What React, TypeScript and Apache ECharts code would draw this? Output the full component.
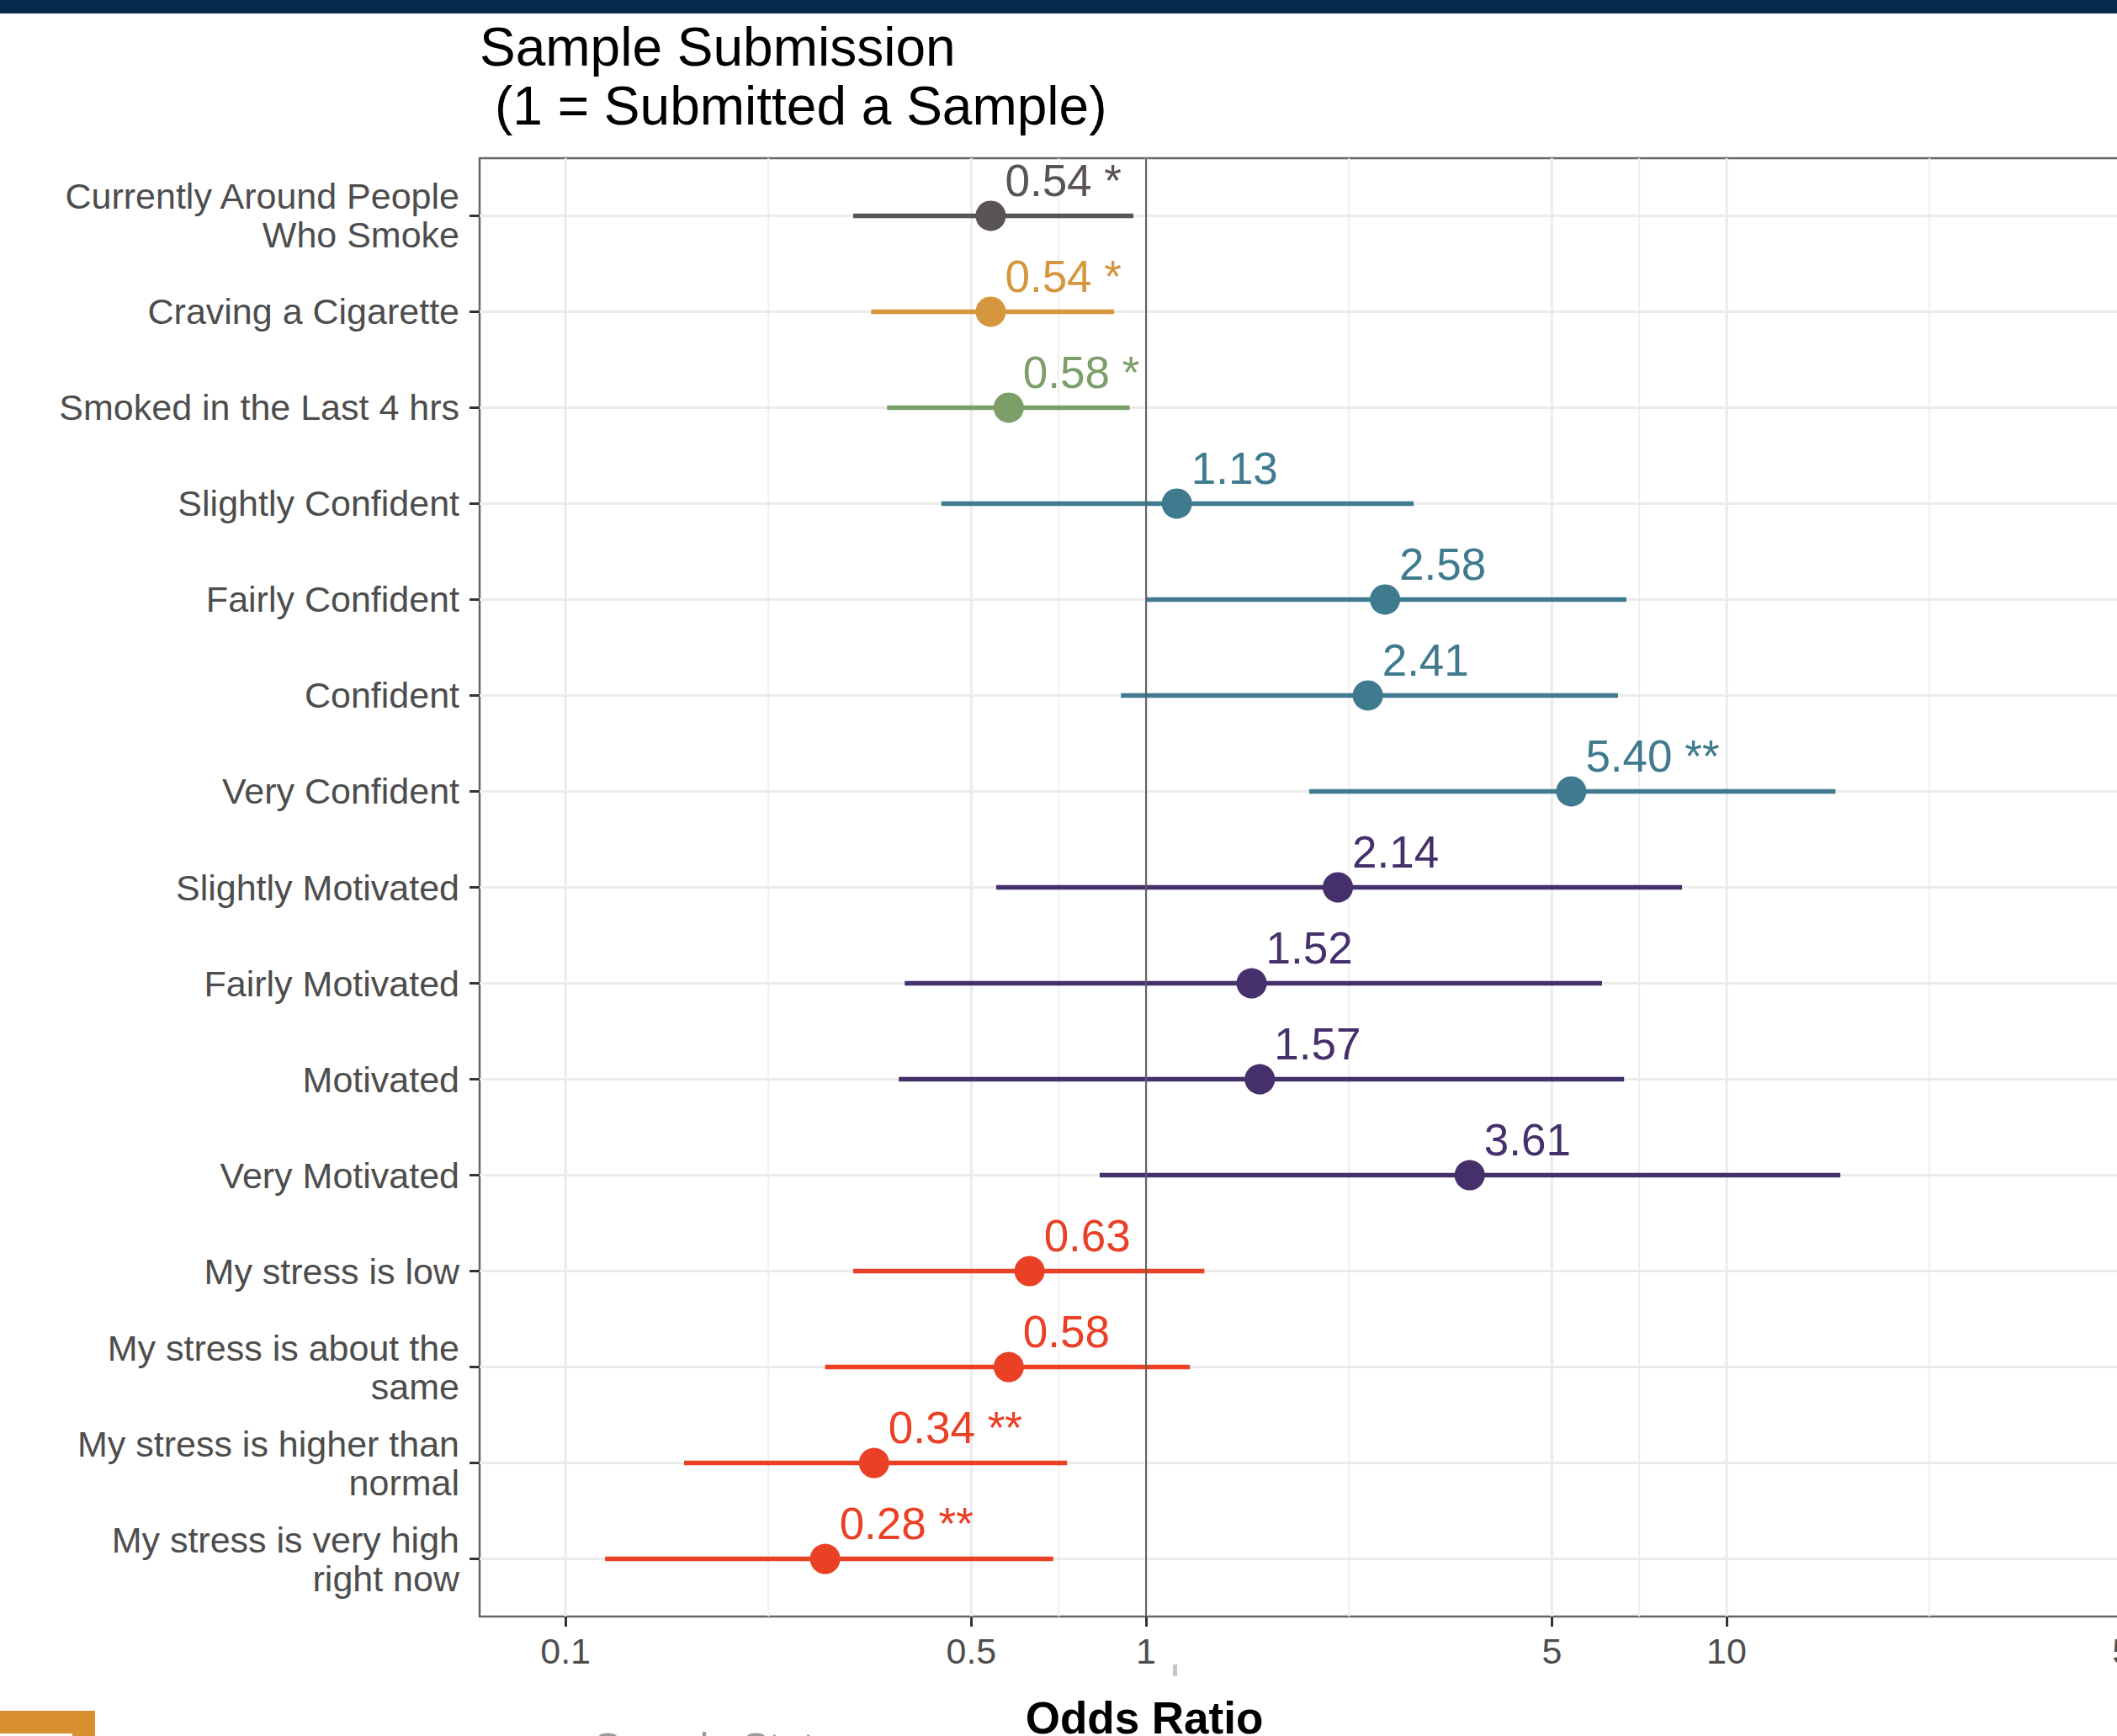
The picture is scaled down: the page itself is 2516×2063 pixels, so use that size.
import React, { useEffect, useRef } from "react";
import * as echarts from "echarts";

// ---- Data ----
const categories: string[] = [
  "Currently Around People\nWho Smoke",
  "Craving a Cigarette",
  "Smoked in the Last 4 hrs",
  "Slightly Confident",
  "Fairly Confident",
  "Confident",
  "Very Confident",
  "Slightly Motivated",
  "Fairly Motivated",
  "Motivated",
  "Very Motivated",
  "My stress is low",
  "My stress is about the\nsame",
  "My stress is higher than\nnormal",
  "My stress is very high\nright now",
];
const oddsRatios: number[] = [0.54, 0.54, 0.58, 1.13, 2.58, 2.41, 5.4, 2.14, 1.52, 1.57, 3.61, 0.63, 0.58, 0.34, 0.28];
const ciLow: number[] = [0.313, 0.336, 0.358, 0.444, 1.0, 0.905, 1.91, 0.552, 0.384, 0.375, 0.832, 0.313, 0.28, 0.16, 0.117];
const ciHigh: number[] = [0.951, 0.881, 0.937, 2.89, 6.72, 6.5, 15.4, 8.38, 6.1, 6.66, 15.7, 1.26, 1.19, 0.731, 0.692];
const stars: string[] = ["*", "*", "*", "", "", "", "**", "", "", "", "", "", "", "**", "**"];
const groups: string[] = [
  "surround", "craving", "smoked",
  "confidence", "confidence", "confidence", "confidence",
  "motivation", "motivation", "motivation", "motivation",
  "stress", "stress", "stress", "stress",
];
const groupColors: Record<string, string> = {
  surround: "#5a5354",
  craving: "#d6963e",
  smoked: "#7c9f69",
  confidence: "#3f7a8e",
  motivation: "#45306c",
  stress: "#ea4026",
};
const xBreaks: number[] = [0.1, 0.5, 1, 5, 10, 50];
const xBreakLabels: string[] = ["0.1", "0.5", "1", "5", "10", "50"];
const referenceOdds = 1;

const FONT = "'Liberation Sans', Arial, Helvetica, sans-serif";

export default function App() {
  const ref = useRef<HTMLDivElement>(null);

  useEffect(() => {
    if (!ref.current) return;
    const chart = echarts.init(ref.current, null, { renderer: "svg" });

    const lg = (v: number) => Math.log10(v);
    const xMin = -1.148;
    const xMax = 1.85;
    const yMin = -0.6;
    const yMax = 14.6;
    const rows = categories.map((_, i) => i);
    const rowColor = (i: number) => groupColors[groups[i]];
    const breakLogs = xBreaks.map(lg);
    const minorLogs: number[] = [];
    for (let k = 0; k < breakLogs.length - 1; k++) minorLogs.push((breakLogs[k] + breakLogs[k + 1]) / 2);

    // grid line items: [kind, value] kind 0 = vertical minor, 1 = vertical major, 2 = horizontal major, 3 = reference line
    const gridItems: number[][] = [
      ...minorLogs.map((v) => [0, v]),
      ...breakLogs.map((v) => [1, v]),
      ...rows.map((i) => [2, i]),
    ];

    const labelTexts = rows.map((i) => oddsRatios[i].toFixed(2) + (stars[i] ? " " + stars[i] : ""));

    const lineRender = (styles: Record<number, { stroke: string; lineWidth: number }>) =>
      (params: any, api: any) => {
        const kind = api.value(0);
        const v = api.value(1);
        let p1: number[];
        let p2: number[];
        if (kind === 2) {
          p1 = api.coord([xMin, v]);
          p2 = api.coord([xMax, v]);
        } else {
          p1 = api.coord([v, yMin]);
          p2 = api.coord([v, yMax]);
        }
        return {
          type: "line",
          shape: { x1: p1[0], y1: p1[1], x2: p2[0], y2: p2[1] },
          style: { stroke: styles[kind].stroke, lineWidth: styles[kind].lineWidth },
        };
      };

    const option: any = {
      animation: false,
      backgroundColor: "#ffffff",
      grid: {
        left: 570,
        top: 188,
        width: 2068.5,
        height: 1733,
        show: true,
        borderColor: "#666666",
        borderWidth: 2.5,
        backgroundColor: "transparent",
        containLabel: false,
        outerBoundsMode: "none",
      },
      xAxis: {
        type: "value",
        position: "bottom",
        min: xMin,
        max: xMax,
        axisLine: { show: false, onZero: false },
        axisTick: {
          show: true,
          length: 12,
          lineStyle: { color: "#333333", width: 3 },
          customValues: breakLogs,
        },
        axisLabel: {
          show: true,
          customValues: breakLogs,
          formatter: (v: number) => {
            let best = 0;
            breakLogs.forEach((b, k) => {
              if (Math.abs(b - v) < Math.abs(breakLogs[best] - v)) best = k;
            });
            return xBreakLabels[best];
          },
          margin: 19,
          fontSize: 43,
          color: "#4d4d4d",
          fontFamily: FONT,
        },
        splitLine: { show: false },
      },
      yAxis: {
        type: "value",
        position: "left",
        inverse: true,
        min: yMin,
        max: yMax,
        axisLine: { show: false, onZero: false },
        axisTick: {
          show: true,
          length: 12,
          lineStyle: { color: "#333333", width: 3 },
          customValues: rows,
        },
        axisLabel: {
          show: true,
          customValues: rows,
          formatter: (v: number) => categories[Math.round(v)] ?? "",
          margin: 24,
          fontSize: 43,
          lineHeight: 46,
          color: "#4d4d4d",
          align: "right",
          fontFamily: FONT,
        },
        splitLine: { show: false },
      },
      graphic: [
        { type: "rect", shape: { x: 0, y: 0, width: 2700, height: 16 }, style: { fill: "#062a4d" }, z: 100 },
        {
          type: "text",
          x: 570,
          y: 56,
          style: { text: "Sample Submission", fill: "#000000", font: `64px ${FONT}`, textAlign: "left", textVerticalAlign: "middle" },
          z: 100,
        },
        {
          type: "text",
          x: 588,
          y: 126,
          style: { text: "(1 = Submitted a Sample)", fill: "#000000", font: `64px ${FONT}`, textAlign: "left", textVerticalAlign: "middle" },
          z: 100,
        },
        {
          type: "text",
          x: 1360,
          y: 2041,
          style: { text: "Odds Ratio", fill: "#000000", font: `bold 53px ${FONT}`, textAlign: "center", textVerticalAlign: "middle" },
          z: 100,
        },
        {
          type: "text",
          x: 706,
          y: 2076,
          style: { text: "Sample Status", fill: "#9a9a9a", font: `48px ${FONT}`, textAlign: "left", textVerticalAlign: "middle" },
          z: 100,
        },
        { type: "rect", shape: { x: 1394, y: 1978, width: 5, height: 14 }, style: { fill: "#c4c4c4" }, z: 100 },
        { type: "rect", shape: { x: 0, y: 2033, width: 113, height: 30 }, style: { fill: "#d8902e" }, z: 100 },
        { type: "rect", shape: { x: 0, y: 2060, width: 86, height: 3 }, style: { fill: "#ffffff" }, z: 101 },
      ],
      series: [
        {
          type: "custom",
          z: 1,
          silent: true,
          clip: true,
          encode: { x: 1 },
          data: gridItems,
          renderItem: lineRender({
            0: { stroke: "#efefef", lineWidth: 2 },
            1: { stroke: "#ebebeb", lineWidth: 3 },
            2: { stroke: "#ebebeb", lineWidth: 3 },
          }),
        },
        {
          type: "custom",
          z: 3,
          silent: true,
          encode: { x: [0, 1], y: 2 },
          data: rows.map((i) => [lg(ciLow[i]), lg(ciHigh[i]), i]),
          renderItem: (params: any, api: any) => {
            const lo = api.coord([api.value(0), api.value(2)]);
            const hi = api.coord([api.value(1), api.value(2)]);
            return {
              type: "line",
              shape: { x1: lo[0], y1: lo[1], x2: hi[0], y2: hi[1] },
              style: { stroke: rowColor(params.dataIndex), lineWidth: 5.5, opacity: 1 },
            };
          },
        },
        {
          type: "custom",
          z: 4,
          silent: true,
          encode: { x: 1 },
          data: [[3, lg(referenceOdds)]],
          renderItem: lineRender({ 3: { stroke: "#5e5e5e", lineWidth: 2 } }),
        },
        {
          type: "scatter",
          z: 6,
          silent: true,
          symbol: "circle",
          symbolSize: 36,
          itemStyle: { opacity: 1 },
          data: rows.map((i) => ({
            value: [lg(oddsRatios[i]), i],
            itemStyle: { color: rowColor(i), opacity: 1 },
            label: { color: rowColor(i) },
          })),
          label: {
            show: true,
            position: "inside",
            align: "left",
            verticalAlign: "middle",
            offset: [17, -42],
            fontSize: 53,
            fontFamily: FONT,
            formatter: (p: any) => labelTexts[p.dataIndex],
          },
        },
      ],
    };

    chart.setOption(option);
    return () => chart.dispose();
  }, []);

  return (
    <div
      style={{
        position: "fixed",
        left: 0,
        top: 0,
        width: 2516,
        height: 2063,
        overflow: "hidden",
        background: "#ffffff",
      }}
    >
      <div ref={ref} style={{ width: 2700, height: 2063 }} />
    </div>
  );
}
